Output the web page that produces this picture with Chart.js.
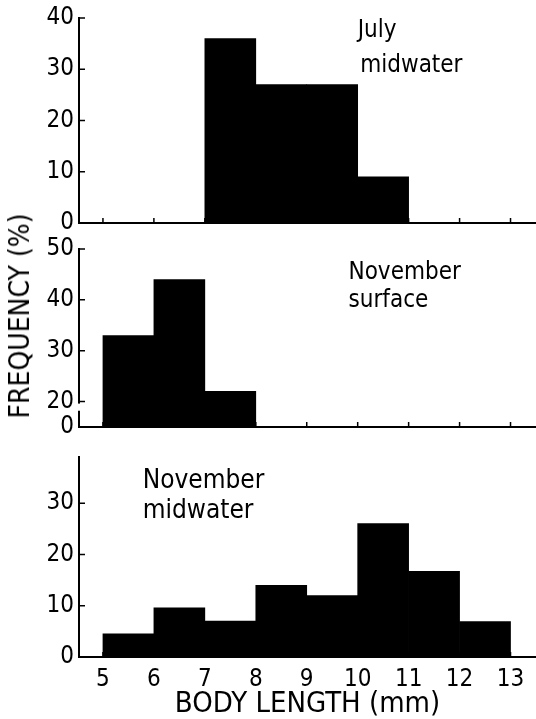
<!DOCTYPE html>
<html>
<head>
<meta charset="utf-8">
<script src="https://cdn.jsdelivr.net/npm/chart.js@4.4.0/dist/chart.umd.min.js"></script>
<style>
html,body{margin:0;padding:0;background:#fff;}
#wrap{position:relative;width:536px;height:719px;overflow:hidden;background:#fff;}
canvas{position:absolute;left:0;}
#ytitle{position:absolute;left:20px;top:316px;transform:translate(-50%,-50%) rotate(-90deg);font:28px "DejaVu Sans Condensed","DejaVu Sans",sans-serif;white-space:nowrap;color:#000;line-height:1;}
</style>
</head>
<body>
<div id="wrap">
  <canvas id="c1" width="536" height="245" style="top:-2px"></canvas>
  <canvas id="c2" width="536" height="218" style="top:229px"></canvas>
  <canvas id="c3" width="536" height="292" style="top:430px"></canvas>
  <div id="ytitle">FREQUENCY (%)</div>
</div>
<script>
// ---------- data ----------
const binStarts = [5, 6, 7, 8, 9, 10, 11, 12];          // lower edge of each 1-mm bin
const julyMidwater = [0, 0, 36, 27, 27, 9, 0, 0];        // %
const novemberSurface = [33, 44, 22, 0, 0, 0, 0, 0];     // %
const novemberMidwater = [4.5, 9.6, 7, 14, 12, 26, 16.7, 6.9]; // %
const xTickValues = [5, 6, 7, 8, 9, 10, 11, 12, 13];
const xTickLabels = ['5', '6', '7', '8', '9', '10', '11', '12', '13'];
const julyYTicks = [0, 10, 20, 30, 40];
const julyYLabels = ['0', '10', '20', '30', '40'];
const surfaceYTicks = [15, 20, 30, 40, 50];              // broken axis: "0" drawn at the break
const surfaceYLabels = ['0', '20', '30', '40', '50'];
const novMidYTicks = [0, 10, 20, 30];
const novMidYLabels = ['0', '10', '20', '30'];

const FONT = '"DejaVu Sans Condensed", "DejaVu Sans", sans-serif';
Chart.defaults.font.family = FONT;
Chart.defaults.color = '#000';

const innerTicks = {
  id: 'innerTicks',
  beforeDatasetsDraw(chart, args, opts) {
    const {ctx, chartArea} = chart;
    const xs = chart.scales.x, ys = chart.scales.y;
    ctx.save();
    ctx.strokeStyle = '#000';
    ctx.lineWidth = 1.5;
    ctx.beginPath();
    xTickValues.forEach(v => {
      const p = xs.getPixelForValue(v);
      ctx.moveTo(p, chartArea.bottom);
      ctx.lineTo(p, chartArea.bottom - 5);
    });
    ys.ticks.forEach(t => {
      if (opts.skipY && opts.skipY.includes(t.value)) return;
      const p = ys.getPixelForValue(t.value);
      ctx.moveTo(chartArea.left, p);
      ctx.lineTo(chartArea.left + 6, p);
    });
    ctx.stroke();
    ctx.restore();
  }
};

const notesPlugin = {
  id: 'notes',
  afterDraw(chart, args, opts) {
    if (!opts.items) return;
    const {ctx} = chart;
    const xs = chart.scales.x, ys = chart.scales.y;
    ctx.save();
    ctx.fillStyle = '#000';
    ctx.textAlign = 'left';
    ctx.textBaseline = 'alphabetic';
    ctx.font = opts.size + 'px ' + FONT;
    opts.items.forEach(n => ctx.fillText(n.text, xs.getPixelForValue(n.x), ys.getPixelForValue(n.y)));
    ctx.restore();
  }
};

const axisBreak = {
  id: 'axisBreak',
  afterDraw(chart, args, opts) {
    if (!opts.from) return;
    const {ctx, chartArea} = chart;
    const ys = chart.scales.y;
    const a = ys.getPixelForValue(opts.from), b = ys.getPixelForValue(opts.to);
    ctx.save();
    ctx.fillStyle = '#fff';
    ctx.fillRect(chartArea.left - 3, a, 6, b - a);
    ctx.restore();
  }
};

function makeChart(id, values, cfg) {
  return new Chart(document.getElementById(id), {
    type: 'bar',
    data: {
      datasets: [{
        data: binStarts.map((s, i) => ({x: s + 0.5, y: values[i]})),
        backgroundColor: '#000',
        borderWidth: 0,
        barPercentage: 1,
        categoryPercentage: 1
      }]
    },
    options: {
      responsive: false,
      animation: false,
      devicePixelRatio: 1,
      layout: {padding: {top: cfg.padTop, bottom: cfg.padBottom, left: 0, right: 0}},
      plugins: {
        legend: {display: false},
        tooltip: {enabled: false},
        notes: {items: cfg.notes, size: cfg.noteSize},
        innerTicks: {skipY: cfg.skipY || []},
        axisBreak: cfg.axisBreak || {}
      },
      scales: {
        x: {
          type: 'linear',
          min: 4.53, max: 13.5,
          offset: false,
          grid: {display: false, drawTicks: false},
          border: {display: true, color: '#000', width: 2},
          afterBuildTicks: s => { s.ticks = xTickValues.map(v => ({value: v})); },
          ticks: {display: cfg.showX, font: {size: 24}, padding: 8, maxRotation: 0, autoSkip: false,
                  callback: (v, i) => xTickLabels[i]},
          title: {display: cfg.showX, text: 'BODY LENGTH (mm)', font: {size: 29}, padding: 0},
          afterFit: s => { s.height = cfg.xHeight; }
        },
        y: {
          type: 'linear',
          min: cfg.yMin, max: cfg.yMax,
          grid: {display: false, drawTicks: false},
          border: {display: true, color: '#000', width: 2},
          afterBuildTicks: s => { s.ticks = cfg.yTicks.map(v => ({value: v})); },
          ticks: {font: {size: 24}, padding: 5, callback: (v, i) => cfg.yLabels[i]},
          afterFit: s => { s.width = 79; }
        }
      }
    },
    plugins: [innerTicks, notesPlugin, axisBreak]
  });
}

makeChart('c1', julyMidwater, {
  padTop: 20, padBottom: 20, xHeight: 0, showX: false,
  yMin: 0, yMax: 40, yTicks: julyYTicks, yLabels: julyYLabels,
  noteSize: 24,
  notes: [{text: 'July', x: 10.0, y: 36.3}, {text: 'midwater', x: 10.05, y: 29.4}]
});

makeChart('c2', novemberSurface, {
  padTop: 20, padBottom: 20, xHeight: 0, showX: false,
  yMin: 15, yMax: 50, yTicks: surfaceYTicks, yLabels: surfaceYLabels,
  skipY: [15],
  axisBreak: {from: 19.6, to: 18.2},
  noteSize: 24,
  notes: [{text: 'November', x: 9.82, y: 44.1}, {text: 'surface', x: 9.82, y: 38.6}]
});

makeChart('c3', novemberMidwater, {
  padTop: 27, padBottom: 0, xHeight: 65, showX: true,
  yMin: 0, yMax: 39, yTicks: novMidYTicks, yLabels: novMidYLabels,
  skipY: [0],
  noteSize: 26,
  notes: [{text: 'November', x: 5.78, y: 33}, {text: 'midwater', x: 5.78, y: 27.2}]
});
</script>
</body>
</html>
